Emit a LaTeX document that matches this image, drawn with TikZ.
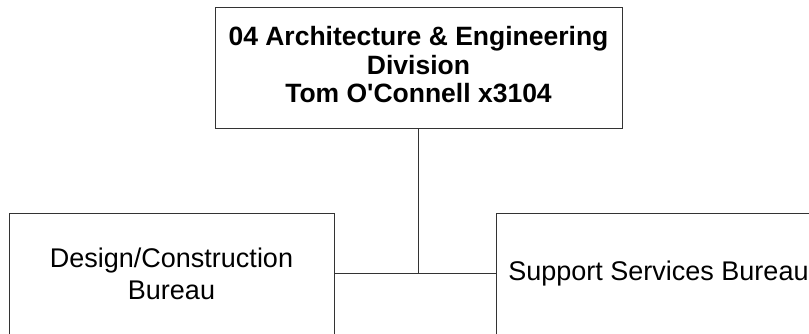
\documentclass[tikz,border=0pt]{standalone}
\usepackage{fontspec}
\setmainfont{Liberation Sans}
\usetikzlibrary{positioning}

\begin{document}
\begin{tikzpicture}[
        x=1pt, y=-1pt,
        unit/.style={draw=black!80, line width=1pt, minimum width=325pt,
                     minimum height=121pt, inner sep=0pt, align=center,
                     font=\fontsize{27}{32}\selectfont},
        head/.style={unit, minimum width=407pt, text depth=6pt,
                     font=\bfseries\fontsize{26.5}{28.5}\selectfont},
        link/.style={draw=black!80, line width=1pt}
      ]
        \useasboundingbox (0,0) rectangle (809,333);
        \clip (0,0) rectangle (809,333);
        \node[head] (div) at (418.5,67.5)
          {04 Architecture \& Engineering\\Division\\Tom O\textquotesingle Connell x3104};
        \node[unit] (dcb) at (171.5,273.5) {Design/Construction\\Bureau};
        \node[unit] (ssb) at (658.5,273.5) {Support Services Bureau};
        \draw[link] (div.south) -- (div.south |- dcb.east);
        \draw[link] (dcb.east) -- (ssb.west);
      \end{tikzpicture}
\end{document}
